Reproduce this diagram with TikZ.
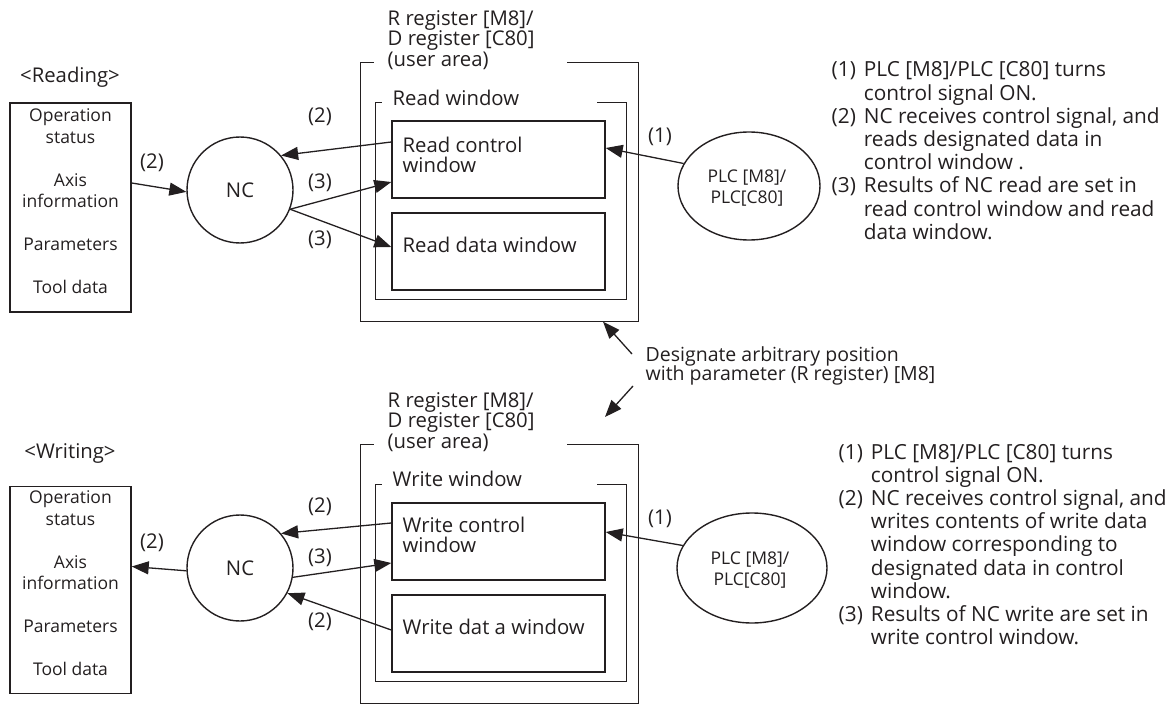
\documentclass[tikz,border=0pt]{standalone}
\usepackage{fontspec}
\setmainfont{Open Sans}
\usetikzlibrary{arrows.meta,shapes.geometric}
\definecolor{ink}{HTML}{231F20}
\begin{document}
\begin{tikzpicture}[x=1pt,y=-1pt,line width=1.4pt,
  every node/.style={text=ink,inner sep=0pt,font=\fontsize{20.3}{21}\selectfont},
  small/.style={font=\fontsize{17.5}{21}\selectfont},
  box/.style={draw=ink,rectangle},
  ghost/.style={rectangle},
  bubble/.style={draw=ink,circle,minimum size=106pt},
  oval/.style={draw=ink,ellipse},
  arr/.style={draw=ink,line width=1.3pt,-{Triangle[length=17pt,width=13pt]}},
  tight/.style={font=\fontsize{20.3}{20.5}\selectfont},
  notes/.style={font=\fontsize{20.8}{23.2}\selectfont,anchor=base west}
]
\useasboundingbox (0,0) rectangle (1176,706);

% ================= READING =================
\node (rhead) at (70,77) {<Reading>};
\node[box,minimum width=121pt,minimum height=209pt] (rbox) at (70.5,207.5) {};
\node[small] (r1) at (70.5,117) {Operation};
\node[small] (r2) at (70.5,138) {status};
\node[small] (r3) at (70.5,180) {Axis};
\node[small] (r4) at (70.5,201) {information};
\node[small] (r5) at (70.5,244) {Parameters};
\node[small] (r6) at (70.5,287) {Tool data};

\node[bubble] (nc1) at (240,190) {NC};

\node[ghost,minimum width=277pt,minimum height=258pt] (outer1) at (499.5,192) {};
\draw[ink] ([xshift=207pt]outer1.north west) -| (outer1.south east) -| (outer1.north west) -- ++(14,0);
\node[tight,anchor=west,align=left] (reg1) at (387,40) {R register [M8]/\\D register [C80]\\(user area)};

\node[ghost,minimum width=250pt,minimum height=196pt] (win1) at (501,201) {};
\draw[ink] ([xshift=222pt]win1.north west) -| (win1.south east) -| (win1.north west) -- ++(7,0);
\node[anchor=west] (win1lbl) at (392,98) {Read window};

\node[box,minimum width=213pt,minimum height=77pt] (rcw) at (498.5,159.5) {};
\node[tight,anchor=west,align=left] (rcwlbl) at (402,155) {Read control\\window};
\node[box,minimum width=213pt,minimum height=77pt] (rdw) at (498.5,251.5) {};
\node[anchor=west] (rdwlbl) at (402,245) {Read data window};

\node[oval,minimum width=142pt,minimum height=108pt] (plc1) at (749,186) {};
\node[small,align=center] (plc1lbl) at (747,188) {PLC [M8]/\\PLC[C80]};

\draw[arr] ([yshift=24.5pt]rbox.east) -- (nc1.182);
\draw[arr] ([yshift=17.5pt]rcw.west) -- (nc1.40);
\draw[arr] (nc1.-21) -- ([yshift=-22.5pt]rcw.west);
\draw[arr] (nc1.-21) -- ([yshift=4.5pt]rdw.west);
\draw[arr] (plc1.161) -- ([yshift=11.5pt]rcw.east);

\node (lr1) at (152,163) {(2)};
\node (lr2) at (320,117) {(2)};
\node (lr3) at (320,183) {(3)};
\node (lr4) at (320,240) {(3)};
\node (lr5) at (660,137) {(1)};

\node[notes] (note1) at (831,77) {\begin{tabular}[t]{@{}l@{\hspace{8pt}}l@{}}
(1)&PLC [M8]/PLC [C80] turns\\
&control signal ON.\\
(2)&NC receives control signal, and\\
&reads designated data in\\
&control window .\\
(3)&Results of NC read are set in\\
&read control window and read\\
&data window.
\end{tabular}};

% ================= DESIGNATE =================
\node[font=\fontsize{19.5}{19.5}\selectfont,anchor=west,align=left] (desig) at (645,366) {Designate arbitrary position\\with parameter (R register) [M8]};
\coordinate (d1) at (632,354);
\coordinate (d2) at (633,386);
\coordinate (d2tip) at (605,417);
\draw[arr] (d1) -- ([xshift=103.5pt]outer1.south);
\draw[arr] (d2) -- (d2tip);

% ================= WRITING =================
\node (whead) at (70,453) {<Writing>};
\node[box,minimum width=121pt,minimum height=207pt] (wbox) at (70.5,590) {};
\node[small] (w1) at (70.5,499) {Operation};
\node[small] (w2) at (70.5,520) {status};
\node[small] (w3) at (70.5,562) {Axis};
\node[small] (w4) at (70.5,583) {information};
\node[small] (w5) at (70.5,626) {Parameters};
\node[small] (w6) at (70.5,669) {Tool data};

\node[bubble] (nc2) at (240,568) {NC};

\node[ghost,minimum width=277pt,minimum height=258pt] (outer2) at (499.5,574) {};
\draw[ink] ([xshift=207pt]outer2.north west) -| (outer2.south east) -| (outer2.north west) -- ++(14,0);
\node[tight,anchor=west,align=left] (reg2) at (387,422) {R register [M8]/\\D register [C80]\\(user area)};

\node[ghost,minimum width=250pt,minimum height=196pt] (win2) at (501,583) {};
\draw[ink] ([xshift=222pt]win2.north west) -| (win2.south east) -| (win2.north west) -- ++(7,0);
\node[anchor=west] (win2lbl) at (392,479) {Write window};

\node[box,minimum width=213pt,minimum height=77pt] (wcw) at (498.5,541.5) {};
\node[tight,anchor=west,align=left] (wcwlbl) at (402,535) {Write control\\window};
\node[box,minimum width=213pt,minimum height=77pt] (wdw) at (498.5,633.5) {};
\node[anchor=west] (wdwlbl) at (402,627) {Write dat a window};

\node[oval,minimum width=150pt,minimum height=110pt] (plc2) at (752,568) {};
\node[small,align=center] (plc2lbl) at (750,570) {PLC [M8]/\\PLC[C80]};

\draw[arr] (nc2.183) -- ([yshift=23.5pt]wbox.east);
\draw[arr] ([yshift=18.5pt]wcw.west) -- (nc2.40);
\draw[arr] (nc2.-10) -- ([yshift=-21.5pt]wcw.west);
\draw[arr] ([yshift=3.5pt]wdw.west) -- (nc2.-28);
\draw[arr] (plc2.162) -- ([yshift=9.5pt]wcw.east);

\node (lw1) at (152,543) {(2)};
\node (lw2) at (320,507) {(2)};
\node (lw3) at (320,558) {(3)};
\node (lw4) at (320,622) {(2)};
\node (lw5) at (660,519) {(1)};

\node[notes] (note2) at (838,459) {\begin{tabular}[t]{@{}l@{\hspace{8pt}}l@{}}
(1)&PLC [M8]/PLC [C80] turns\\
&control signal ON.\\
(2)&NC receives control signal, and\\
&writes contents of write data\\
&window corresponding to\\
&designated data in control\\
&window.\\
(3)&Results of NC write are set in\\
&write control window.
\end{tabular}};
\end{tikzpicture}
\end{document}
